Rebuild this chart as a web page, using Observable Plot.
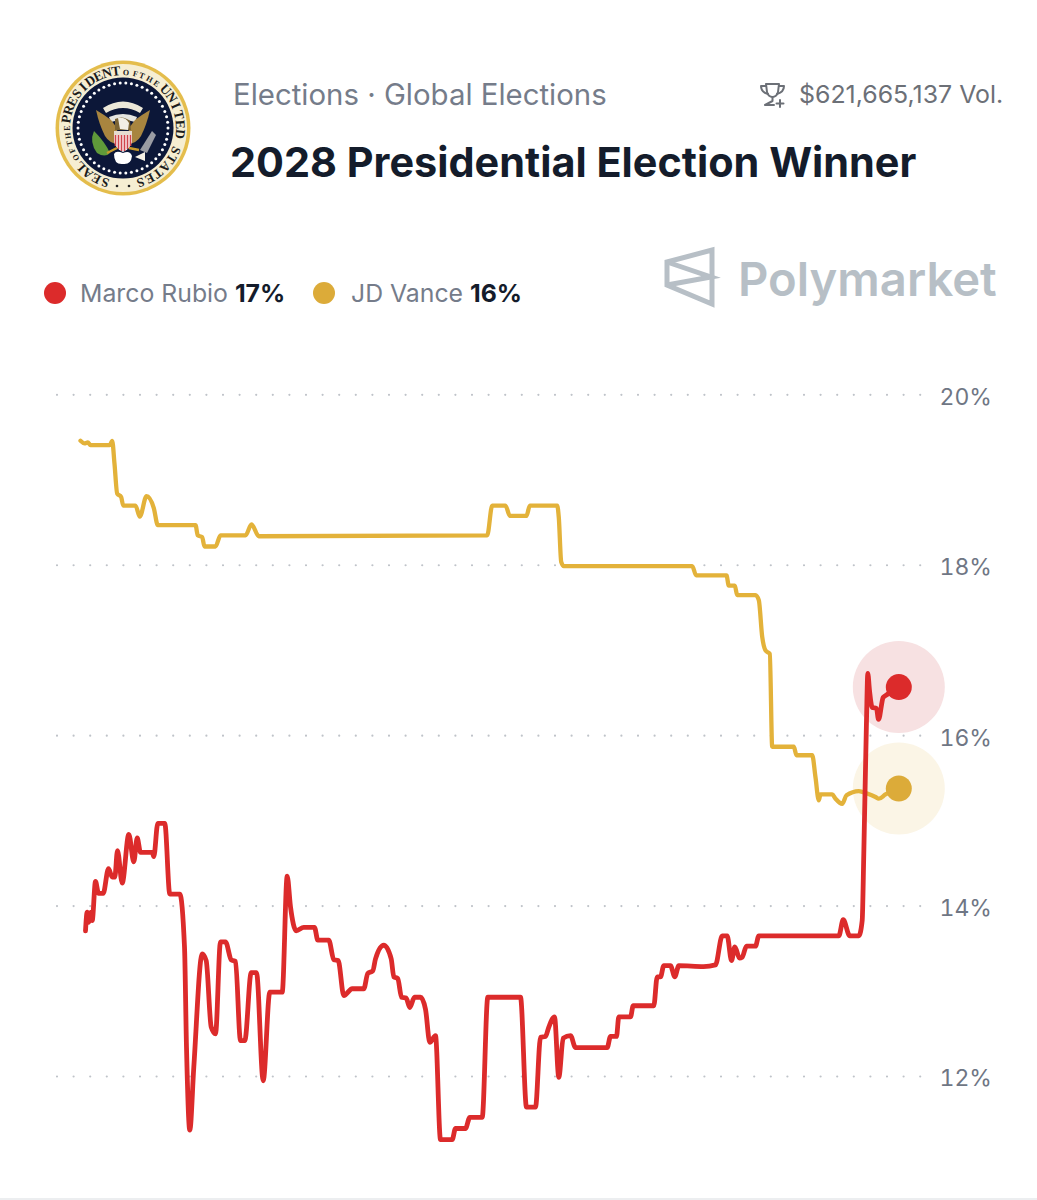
<!DOCTYPE html>
<html>
<head>
<meta charset="utf-8">
<script src="https://cdn.jsdelivr.net/npm/d3@7"></script>
<script src="https://cdn.jsdelivr.net/npm/@observablehq/plot@0.6"></script>
<style>
html,body{margin:0;padding:0;background:#fff;font-family:Inter,"Noto Sans",sans-serif;}
#page{position:relative;width:1037px;height:1200px;overflow:hidden;}
#head{position:relative;width:1037px;height:360px;}
#head>*{position:absolute;white-space:nowrap;}
#crumb{left:233px;top:77px;font-size:29.4px;line-height:36px;color:#757c8a;}
#vol{left:799px;top:79px;font-size:24.9px;line-height:30px;color:#6c7077;}
#title{left:230px;top:137px;font-size:41.4px;line-height:50px;font-weight:700;color:#141c2b;}
#logoText{left:738px;top:249px;font-size:47.2px;line-height:60px;font-weight:600;color:#b7bfc6;}
.legend{top:277px;font-size:24.8px;line-height:32px;color:#757c8a;}
.legend b{color:#141c2b;font-weight:700;}
.swatch{width:22px;height:22px;border-radius:50%;top:282px;}
#chart{position:absolute;left:0;top:360px;}
#foot{position:absolute;left:0;top:1198px;width:1037px;height:2px;background:#eceef0;}
</style>
</head>
<body>
<div id="page">
  <div id="head">
    <svg id="seal" style="left:50px;top:55px" width="146" height="146" viewBox="-73 -73 146 146">
      <circle r="67.5" fill="#e4bd4c"/>
      <circle r="64" fill="#f6eed2"/>
      <circle r="50.5" fill="#0c1738"/>
      <g id="sealText" font-family="'Liberation Serif',serif" font-weight="700" fill="#1c1c1c" text-anchor="middle"></g>
      <circle cx="-6" cy="58" r="1.3" fill="#222"/><circle cx="6" cy="58" r="1.3" fill="#222"/>
      <g id="sealDots"></g>
      <path d="M-20 -20 Q0 -33 20 -20 L17 -15 Q0 -25 -17 -15 Z" fill="#ece8d8"/>
      <path d="M-14 -11 Q0 -17 14 -11 L12 -6 Q0 -10 -12 -6 Z" fill="#e5e5e0"/>
      <path d="M-27 -18 Q-20 -14 -12 -8 L-6 0 L-5 16 Q-14 15 -18 8 Q-24 -4 -27 -18 Z" fill="#a8853f"/>
      <path d="M27 -18 Q20 -14 12 -8 L6 0 L5 16 Q14 15 18 8 Q24 -4 27 -18 Z" fill="#a8853f"/>
      <path d="M-8 -9 Q0 -13 7 -7 L8 2 L-8 2 Z" fill="#7b6434"/>
      <path d="M-5 -10 Q3 -11 6 -5 L5 2 L-3 1 Z" fill="#f2efe6"/>
      <path d="M-9 3 L9 3 L9 14 Q7 21 0 24 Q-7 21 -9 14 Z" fill="#fff"/>
      <path d="M-7.5 7V18M-4.5 7V21M-1.5 7V23M1.5 7V23M4.5 7V21M7.5 7V18" stroke="#d0454a" stroke-width="1.7"/>
      <path d="M-9 3H9V7H-9Z" fill="#e6dcd0"/>
      <path d="M-29 3 Q-34 14 -26 25 Q-18 30 -13 25 Q-18 14 -29 3 Z" fill="#5f9a3a"/>
      <path d="M-16 25 L-6 20 M16 22 L6 20" stroke="#c79a2c" stroke-width="2.4"/>
      <path d="M17 22 L29 3 L33 7 L24 25 Z" fill="#9a9ca3"/>
      <path d="M-9 26 Q-7 22 0 25 Q7 22 9 28 Q8 37 0 36 Q-9 37 -9 26 Z" fill="#fff"/>
      <path d="M12 29 L22 24 L22 33 Z" fill="#f4f0e6"/>
    </svg>
    <div id="crumb"></div>
    <svg style="left:759px;top:81px" width="28" height="28" viewBox="0 0 28 28" fill="none" stroke="#6c7077" stroke-width="2" stroke-linecap="round" stroke-linejoin="round">
      <path d="M7 3 H20 L19 11 Q17.5 16 13.5 16 Q9.5 16 8 11 Z"/>
      <path d="M7 5 H2 Q2 11 9 13 M20 5 H25 Q25 11 18 13"/>
      <path d="M13.5 16 V20 L6 24 H15"/>
      <path d="M21 19 V26 M17.5 22.5 H24.5"/>
    </svg>
    <div id="vol"></div>
    <div id="title"></div>
    <svg style="left:660px;top:242px" width="62" height="70" viewBox="660 242 62 70" fill="none" stroke="#b7bfc6" stroke-width="5" stroke-linejoin="miter">
      <path d="M712 250 V304 L667 285 V262 Z"/>
      <path d="M667 262 L711 277 L667 285"/>
    </svg>
    <div id="logoText"></div>
    <div class="swatch" style="left:44px;background:#dc2b2b"></div>
    <div class="legend" id="leg0" style="left:80px"></div>
    <div class="swatch" style="left:313px;background:#dcab39"></div>
    <div class="legend" id="leg1" style="left:351px"></div>
  </div>
  <div id="chart"></div>
  <div id="foot"></div>
</div>
<script>
const crumbText = "Elections · Global Elections";
const volumeText = "$621,665,137 Vol.";
const titleText = "2028 Presidential Election Winner";
const brandText = "Polymarket";
const seriesNames = ["Marco Rubio", "JD Vance"];
const seriesLabels = ["17%", "16%"];
const seriesColors = ["#dc2b2b", "#e3b23a"];
const dotColors = ["#dc2b2b", "#dcab39"];
const haloColors = ["#f7e1e2", "#fbf5e6"];
const yTicks = [12, 14, 16, 18, 20];

const rubioT = [5,6.7,8,10.7,11.7,15,18,22.7,28,31.7,34.3,37,41.7,48.3,53.3,56.7,60,71.7,73.3,77.3,84.3,89.3,99.3,104,106,109.3,113.3,121.7,125.7,130.7,135,140,145,150.7,155,160,164.3,170.7,176,182.7,189.3,201.7,206.7,210,215.7,223.3,234,237.3,248.3,253.3,257.7,263.3,271.7,283.3,287.3,292.3,295,303.3,310.7,313.3,317.3,321,325.7,329.3,334,340,345,349.3,355,360,371.7,375,385,389.3,401.7,407.3,440,446,455,460,465,468.3,474,478.3,482.7,490,495,526.7,530,536,538.3,550,552.7,573.3,576.7,580,583.3,590,594.3,598.3,623,635,641.7,646.7,651,654.3,659,661.7,666,675,678.3,758.3,762.7,769.3,778.3,781.7,783.3,786,787.3,789,791.7,796,798,802.7,805,818.3];
const rubioV = [13.71,13.93,13.81,13.93,13.83,14.29,14.15,14.15,14.44,14.34,14.34,14.65,14.27,14.84,14.52,14.80,14.63,14.63,14.58,14.97,14.97,14.14,14.14,13.52,12.34,11.37,12.11,13.44,13.36,12.58,12.50,13.58,13.58,13.37,13.35,12.42,12.42,13.22,13.22,11.95,12.99,12.99,14.35,13.99,13.71,13.75,13.75,13.60,13.60,13.37,13.36,12.95,13.03,13.03,13.21,13.24,13.38,13.54,13.38,13.17,13.15,12.93,12.92,12.81,12.93,12.93,12.79,12.40,12.48,11.26,11.26,11.39,11.39,11.52,11.52,12.93,12.93,11.64,11.64,12.46,12.47,12.58,12.70,11.99,12.45,12.48,12.34,12.34,12.47,12.47,12.70,12.70,12.83,12.83,13.17,13.17,13.30,13.30,13.17,13.30,13.29,13.31,13.65,13.65,13.36,13.52,13.39,13.40,13.53,13.53,13.65,13.65,13.84,13.65,13.65,13.83,14.62,16.18,16.73,16.53,16.33,16.32,16.19,16.45,16.47,16.57];
const vanceT = [0,4,7.3,10,29.3,31.7,34,36.7,40.7,42.7,55,59.3,66,73.3,77.3,115,117.3,121.7,124,135,140,165,171,178.3,406.7,411.7,425,429.3,446,449.3,476.7,478.3,480.7,483.3,611.7,615.7,646,648.3,654.3,656.7,675,678.3,681.7,685,689.3,691.7,713.3,716,731.7,735,738.3,740,751.7,755,761.7,766,778.3,786.7,795,798.3,805,818.3];
const vanceV = [19.46,19.43,19.44,19.41,19.41,19.46,19.19,18.84,18.80,18.70,18.70,18.57,18.81,18.67,18.47,18.47,18.35,18.33,18.22,18.22,18.35,18.35,18.48,18.34,18.35,18.70,18.70,18.58,18.58,18.70,18.70,18.56,18.04,17.99,17.99,17.88,17.88,17.76,17.76,17.65,17.65,17.59,17.16,17.00,16.96,15.87,15.87,15.77,15.77,15.51,15.24,15.31,15.31,15.26,15.20,15.30,15.35,15.32,15.28,15.26,15.31,15.38];

const sealWords = ["SEAL","OF","THE","PRESIDENT","OF","THE","UNITED","STATES"];
const sealStart = [198,238,254,279,3,20,48,113];
const sealEnd = [228,246,270,353,13,37,96,162];
const sealSize = [13,8,8,13.5,8,8,13.5,13];

document.getElementById("crumb").textContent = crumbText;
document.getElementById("vol").textContent = volumeText;
document.getElementById("title").textContent = titleText;
document.getElementById("logoText").textContent = brandText;
seriesNames.forEach((n, i) => {
  document.getElementById("leg" + i).innerHTML = n + " <b>" + seriesLabels[i] + "</b>";
});

const svgNS = "http://www.w3.org/2000/svg";
const sealTextG = document.getElementById("sealText");
sealWords.forEach((w, k) => {
  [...w].forEach((ch, j) => {
    const a = sealStart[k] + (sealEnd[k] - sealStart[k]) * (w.length > 1 ? j / (w.length - 1) : 0);
    const t = document.createElementNS(svgNS, "text");
    t.setAttribute("transform", `rotate(${a}) translate(0,-53)`);
    t.setAttribute("font-size", sealSize[k]);
    t.textContent = ch;
    sealTextG.appendChild(t);
  });
});
const dotsG = document.getElementById("sealDots");
for (let i = 0; i < 50; i++) {
  const a = i / 50 * 2 * Math.PI;
  const c = document.createElementNS(svgNS, "circle");
  c.setAttribute("cx", 45 * Math.cos(a));
  c.setAttribute("cy", 45 * Math.sin(a));
  c.setAttribute("r", 1.5);
  c.setAttribute("fill", "#fff");
  dotsG.appendChild(c);
}

const toRows = (ts, vs) => ts.map((t, i) => ({t, v: vs[i]}));
const rubio = toRows(rubioT, rubioV);
const vance = toRows(vanceT, vanceV);
const ends = [rubio.at(-1), vance.at(-1)].map((d, i) => ({...d, i}));

const chart = Plot.plot({
  width: 1037,
  height: 840,
  marginLeft: 57,
  marginRight: 107,
  marginTop: 0,
  marginBottom: 0,
  style: {background: "transparent", fontFamily: "Inter, sans-serif"},
  x: {domain: [0, 818.3], range: [80, 898.3], axis: null},
  y: {domain: [12, 20], range: [716, 34.3], axis: null},
  marks: [
    Plot.gridY(yTicks, {stroke: "#bfc3c9", strokeOpacity: 1, strokeWidth: 2.2, strokeDasharray: "0 16.6", strokeLinecap: "round"}),
    Plot.axisY(yTicks, {anchor: "right", tickSize: 0, tickPadding: 9, textAnchor: "start", dy: 2.5, fontSize: 23, fill: "#6f7684", label: null, tickFormat: d => d + "%"}),
    Plot.dot(ends, {x: "t", y: "v", r: 46, fill: d => haloColors[d.i], stroke: "none"}),
    Plot.line(vance, {x: "t", y: "v", stroke: seriesColors[1], strokeWidth: 4.3, curve: "monotone-x"}),
    Plot.line(rubio, {x: "t", y: "v", stroke: seriesColors[0], strokeWidth: 4.8, curve: "monotone-x"}),
    Plot.dot(ends, {x: "t", y: "v", r: 13, fill: d => dotColors[d.i], stroke: "none"})
  ]
});
document.getElementById("chart").appendChild(chart);
</script>
</body>
</html>
